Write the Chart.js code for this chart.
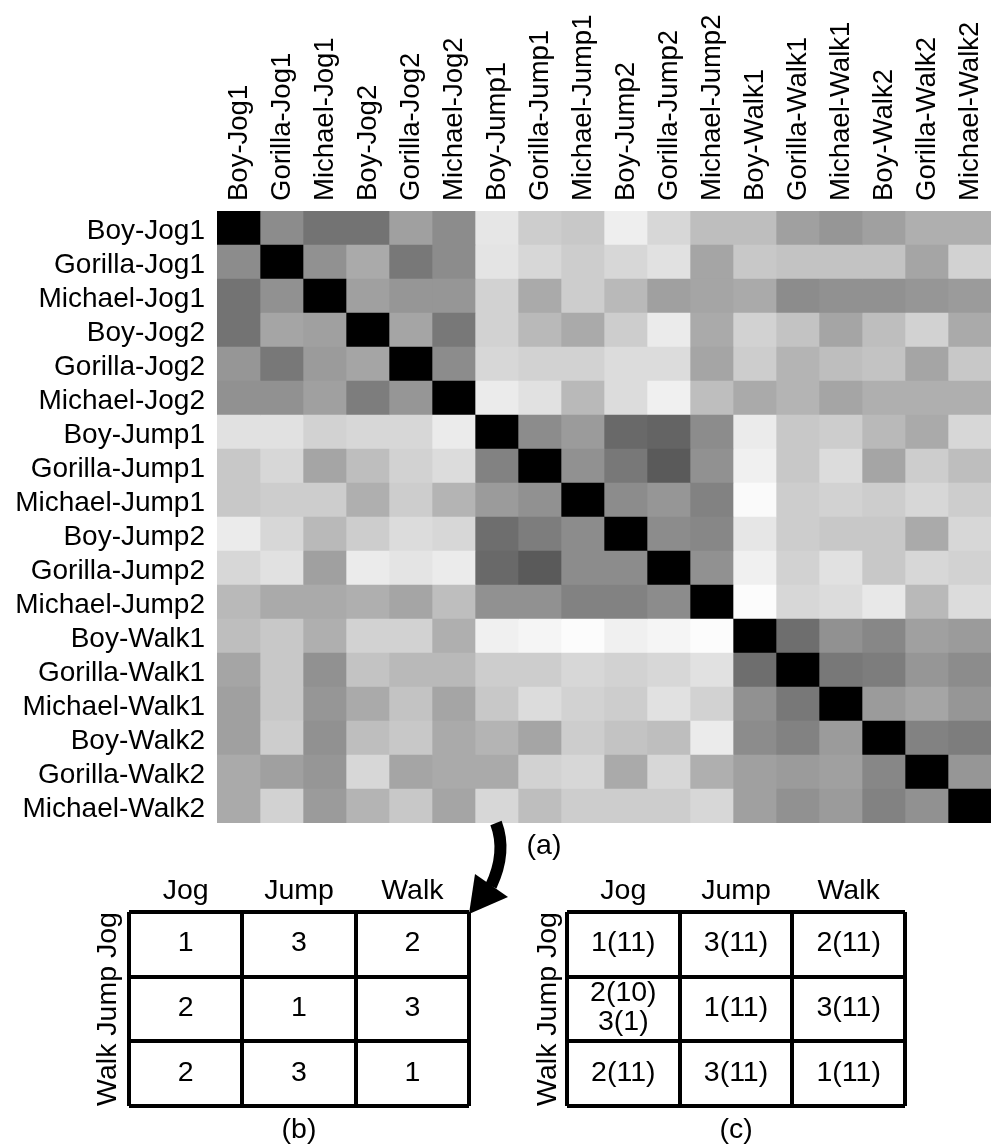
<!DOCTYPE html>
<html>
<head>
<meta charset="utf-8">
<script src="https://cdn.jsdelivr.net/npm/chart.js@4.4.0/dist/chart.umd.min.js"></script>
<style>
  html, body { margin: 0; padding: 0; background: #fff; }
  #page { position: relative; width: 992px; height: 1147px; overflow: hidden; }
  canvas { position: absolute; }
</style>
</head>
<body>
<div id="page">
  <canvas id="heatmap" width="992" height="1147" style="left:0;top:0;width:992px;height:1147px"></canvas>
  <canvas id="tableB" width="500" height="307" style="left:0;top:840px;width:500px;height:307px"></canvas>
  <canvas id="tableC" width="512" height="307" style="left:480px;top:840px;width:512px;height:307px"></canvas>
</div>
<script>
const sequences = [
    'Boy-Jog1', 'Gorilla-Jog1', 'Michael-Jog1', 'Boy-Jog2', 'Gorilla-Jog2', 'Michael-Jog2',
    'Boy-Jump1', 'Gorilla-Jump1', 'Michael-Jump1', 'Boy-Jump2', 'Gorilla-Jump2', 'Michael-Jump2',
    'Boy-Walk1', 'Gorilla-Walk1', 'Michael-Walk1', 'Boy-Walk2', 'Gorilla-Walk2', 'Michael-Walk2'
];

// gray level of every cell, 0 = black (identical) .. 255 = white (far apart)
const shade = [
    [0, 140, 115, 115, 160, 140, 230, 205, 200, 238, 215, 190, 190, 160, 150, 160, 175, 175],
    [140, 0, 145, 170, 120, 140, 228, 215, 205, 215, 225, 165, 200, 195, 195, 195, 165, 210],
    [115, 145, 0, 160, 150, 150, 210, 170, 205, 185, 160, 165, 170, 140, 145, 145, 150, 155],
    [115, 165, 160, 0, 165, 120, 210, 185, 170, 205, 235, 170, 210, 195, 165, 190, 210, 170],
    [150, 120, 155, 165, 0, 140, 215, 210, 210, 220, 220, 165, 205, 180, 190, 195, 165, 200],
    [145, 145, 160, 125, 150, 0, 235, 225, 185, 220, 240, 190, 170, 180, 165, 175, 175, 175],
    [225, 225, 210, 215, 215, 235, 0, 140, 155, 105, 100, 140, 235, 200, 205, 185, 170, 215],
    [200, 215, 165, 190, 210, 220, 130, 0, 145, 120, 90, 145, 240, 200, 220, 165, 205, 190],
    [200, 205, 205, 175, 205, 180, 155, 145, 0, 140, 150, 130, 250, 205, 210, 205, 215, 205],
    [235, 215, 185, 205, 220, 215, 110, 125, 140, 0, 140, 135, 230, 205, 200, 200, 170, 215],
    [215, 225, 160, 235, 228, 235, 105, 90, 140, 140, 0, 145, 240, 210, 225, 200, 215, 210],
    [185, 170, 170, 175, 165, 190, 145, 145, 130, 130, 140, 0, 252, 215, 220, 232, 185, 220],
    [190, 200, 175, 210, 210, 175, 240, 245, 252, 240, 245, 252, 0, 110, 145, 135, 160, 155],
    [165, 200, 145, 195, 185, 185, 205, 205, 215, 210, 215, 225, 110, 0, 120, 125, 150, 140],
    [160, 200, 150, 170, 195, 165, 200, 220, 210, 205, 225, 210, 145, 120, 0, 155, 165, 150],
    [160, 205, 145, 190, 200, 170, 180, 165, 205, 195, 190, 235, 140, 130, 155, 0, 130, 125],
    [170, 160, 150, 215, 165, 170, 170, 210, 215, 170, 215, 175, 160, 155, 160, 135, 0, 150],
    [170, 210, 155, 180, 200, 165, 215, 190, 205, 205, 205, 215, 160, 145, 155, 130, 145, 0]
];

const actions = ['Jog', 'Jump', 'Walk'];
const sideLabel = 'Walk Jump Jog';

// (b) rank per cell
const rankTable = [
    [1, 3, 2],
    [2, 1, 3],
    [2, 3, 1]
];

// (c) rank(count) per cell
const countTable = [
    ['1(11)', '3(11)', '2(11)'],
    [['2(10)', '3(1)'], '1(11)', '3(11)'],
    ['2(11)', '3(11)', '1(11)']
];

const FAMILY = '"Liberation Sans", Arial, Helvetica, sans-serif';
const rowFont = { family: FAMILY, size: 28 };
const colFont = { family: FAMILY, size: 27.5 };
const tableFont = { family: FAMILY, size: 28.5 };

Chart.defaults.devicePixelRatio = 1;
Chart.defaults.color = '#000';

function gray(v) {
    return `rgb(${v}, ${v}, ${v})`;
}

// curved arrow from (a) down to table (b), plus the (a) caption
const arrowPlugin = {
    id: 'arrow',
    afterDraw(chart) {
        const ctx = chart.ctx;
        ctx.save();
        ctx.strokeStyle = '#000';
        ctx.fillStyle = '#000';
        ctx.lineWidth = 12;
        ctx.beginPath();
        ctx.moveTo(496, chart.chartArea.bottom);
        ctx.quadraticCurveTo(507, 852, 491, 886);
        ctx.stroke();
        ctx.beginPath();
        ctx.moveTo(475, 874);
        ctx.lineTo(508, 897);
        ctx.lineTo(469, 914);
        ctx.closePath();
        ctx.fill();
        ctx.font = `${tableFont.size}px ${FAMILY}`;
        ctx.textAlign = 'center';
        ctx.textBaseline = 'middle';
        ctx.fillText('(a)', 544, 846);
        ctx.restore();
    }
};

new Chart(document.getElementById('heatmap'), {
    type: 'bar',
    data: {
        labels: sequences,
        datasets: sequences.map((name, j) => ({
            label: name,
            data: sequences.map(() => 1),
            backgroundColor: shade.map(row => gray(row[j])),
            borderWidth: 0,
            categoryPercentage: 1,
            barPercentage: 1,
        }))
    },
    options: {
        indexAxis: 'y',
        responsive: false,
        animation: false,
        events: [],
        layout: { padding: { left: 0, top: 0, right: 1, bottom: 324 } },
        plugins: { legend: { display: false }, tooltip: { enabled: false } },
        scales: {
            x: { type: 'linear', stacked: true, min: 0, max: 18, display: false },
            y: {
                type: 'category',
                stacked: true,
                grid: { display: false, drawTicks: false },
                border: { display: false },
                ticks: { font: rowFont, color: '#000', padding: 12, labelOffset: 3, autoSkip: false },
                afterFit: (scale) => { scale.width = 217; }
            },
            top: {
                type: 'category',
                position: 'top',
                labels: sequences,
                offset: true,
                grid: { display: false, drawTicks: false },
                border: { display: false },
                ticks: {
                    font: colFont, color: '#000', padding: 10, labelOffset: 34,
                    autoSkip: false, minRotation: 90, maxRotation: 90
                },
                afterFit: (scale) => { scale.height = 211; }
            }
        }
    },
    plugins: [arrowPlugin]
});

// writes each cell's text at its point position
const cellText = {
    id: 'cellText',
    afterDatasetsDraw(chart) {
        const ctx = chart.ctx;
        const points = chart.data.datasets[0].data;
        ctx.save();
        ctx.font = `${tableFont.size}px ${FAMILY}`;
        ctx.fillStyle = '#000';
        ctx.textAlign = 'center';
        ctx.textBaseline = 'middle';
        chart.getDatasetMeta(0).data.forEach((el, i) => {
            const t = points[i].text;
            const lines = Array.isArray(t) ? t : [String(t)];
            lines.forEach((line, k) => {
                ctx.fillText(line, el.x, el.y - 1 + (k - (lines.length - 1) / 2) * 29);
            });
        });
        ctx.restore();
    }
};

function tableChart(canvasId, cells, caption, box) {
    const points = [];
    cells.forEach((row, r) => row.forEach((v, c) => points.push({ x: c + 0.5, y: r + 0.5, text: v })));

    const lines = { color: '#000', lineWidth: 4, drawTicks: false };

    return new Chart(document.getElementById(canvasId), {
        type: 'scatter',
        data: { datasets: [{ data: points, pointRadius: 0, pointHoverRadius: 0 }] },
        options: {
            responsive: false,
            animation: false,
            events: [],
            layout: { padding: { left: 0, top: 0, right: box.right, bottom: 0 } },
            plugins: { legend: { display: false }, tooltip: { enabled: false } },
            scales: {
                x: {
                    type: 'linear', position: 'bottom', min: 0, max: 3,
                    ticks: { display: false, stepSize: 1 },
                    grid: lines,
                    border: { display: false },
                    title: { display: true, text: caption, font: tableFont, color: '#000', padding: 0 },
                    afterFit: (scale) => { scale.height = box.bottom; }
                },
                top: {
                    type: 'category', position: 'top', labels: actions, offset: true,
                    grid: { display: false, drawTicks: false },
                    border: { display: false },
                    ticks: { font: tableFont, color: '#000', padding: 4 },
                    afterFit: (scale) => { scale.height = box.top; }
                },
                y: {
                    type: 'linear', min: 0, max: 3, reverse: true,
                    ticks: { display: false, stepSize: 1 },
                    grid: lines,
                    border: { display: false },
                    title: { display: true, text: sideLabel, font: tableFont, color: '#000', padding: { top: box.sidePad, bottom: 0 } },
                    afterFit: (scale) => { scale.width = box.left; }
                }
            }
        },
        plugins: [cellText]
    });
}

tableChart('tableB', rankTable, '(b)', { left: 129, right: 31, top: 72, bottom: 41, sidePad: 91 });
tableChart('tableC', countTable, '(c)', { left: 87, right: 87, top: 72, bottom: 41, sidePad: 51 });
</script>
</body>
</html>
